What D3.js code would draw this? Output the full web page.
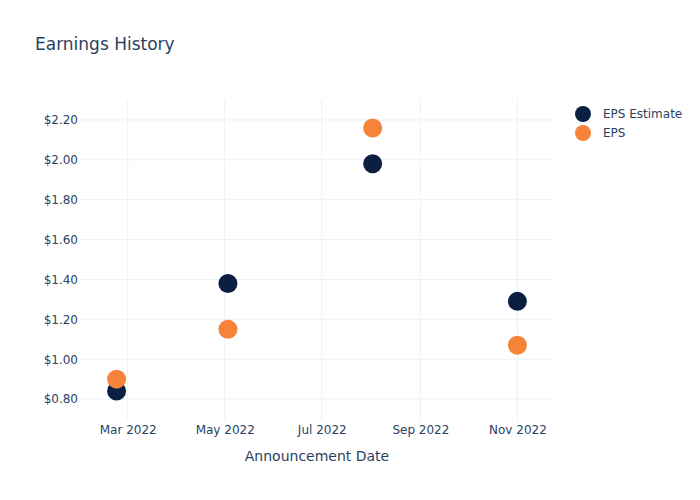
<!DOCTYPE html>
<html><head><meta charset="utf-8">
<script src="https://cdn.jsdelivr.net/npm/d3@7"></script>
<style>body{margin:0;background:#fff}svg{display:block;font-family:"DejaVu Sans",sans-serif}</style>
</head><body><svg id="c" width="700" height="500"></svg>
<script>
const dates = ["2022-02-22","2022-05-03","2022-08-02","2022-11-01"];
const epsEstimate = [0.84, 1.38, 1.98, 1.29];
const eps = [0.90, 1.15, 2.16, 1.07];
const yTicks = [0.8, 1.0, 1.2, 1.4, 1.6, 1.8, 2.0, 2.2];
const xTicks = ["2022-03-01","2022-05-01","2022-07-01","2022-09-01","2022-11-01"];
const seriesNames = ["EPS Estimate","EPS"];
const colors = ["#0b1f42","#f7833a"];

const parse = d3.utcParse("%Y-%m-%d");
const svg = d3.select("#c");
const m = {l:80, r:146, t:100, b:80};
const W = 700, H = 500;
const x = d3.scaleUtc().domain([parse("2022-01-30"), parse("2022-11-24")]).range([m.l, W-m.r]);
const y = d3.scaleLinear().domain([0.695, 2.30]).range([H-m.b, m.t]);
const grid = "#ebf0f8", txt = "#2a3f5f";

// grids
svg.append("g").selectAll("line").data(xTicks).join("line")
  .attr("x1", d=>x(parse(d))).attr("x2", d=>x(parse(d)))
  .attr("y1", m.t).attr("y2", H-m.b).attr("stroke", grid).attr("stroke-width",1);
svg.append("g").selectAll("line").data(yTicks).join("line")
  .attr("y1", d=>y(d)).attr("y2", d=>y(d))
  .attr("x1", m.l).attr("x2", W-m.r).attr("stroke", grid).attr("stroke-width",1);

// axes
const fmtX = d3.utcFormat("%b %Y");
const xAxis = d3.axisBottom(x).tickValues(xTicks.map(parse)).tickFormat(fmtX).tickSize(0).tickPadding(5);
const gx = svg.append("g").attr("transform", `translate(0,${H-m.b})`).call(xAxis);
gx.select(".domain").remove();
gx.selectAll("text").attr("fill", txt).style("font-size","12px").style("font-family","DejaVu Sans");

const yAxis = d3.axisLeft(y).tickValues(yTicks).tickFormat(d=>"$"+d.toFixed(2)).tickSize(0).tickPadding(2);
const gy = svg.append("g").attr("transform", `translate(${m.l},0)`).call(yAxis);
gy.select(".domain").remove();
gy.selectAll("text").attr("fill", txt).style("font-size","12px").style("font-family","DejaVu Sans");

// points
const series = [epsEstimate, eps];
series.forEach((vals, i) => {
  svg.append("g").selectAll("circle").data(vals.map((v,j)=>({d:parse(dates[j]), v})))
    .join("circle").attr("cx", d=>x(d.d)).attr("cy", d=>y(d.v)).attr("r", 9.5)
    .attr("fill", colors[i]);
});

// title
svg.append("text").attr("x", 35).attr("y", 50).attr("fill", txt)
  .style("font-size","17px").text("Earnings History");
// x axis title
svg.append("text").attr("x", (m.l + W - m.r)/2).attr("y", 461).attr("text-anchor","middle")
  .attr("fill", txt).style("font-size","14px").text("Announcement Date");

// legend
const lg = svg.append("g");
seriesNames.forEach((n,i)=>{
  lg.append("circle").attr("cx", 583).attr("cy", 114 + i*19).attr("r", 8).attr("fill", colors[i]);
  lg.append("text").attr("x", 603).attr("y", 118 + i*19).attr("fill", txt).style("font-size","12px").text(n);
});
</script></body></html>
